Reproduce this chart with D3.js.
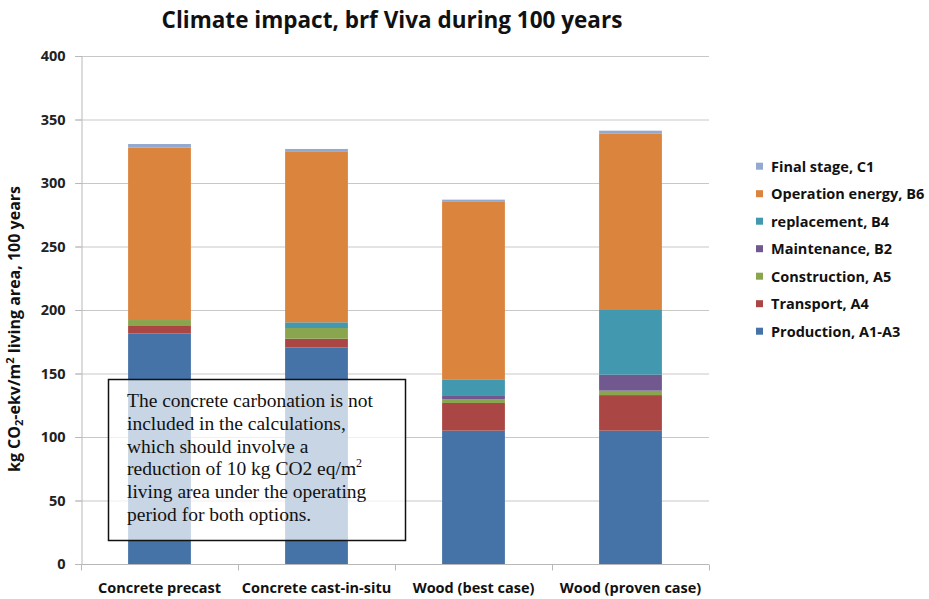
<!DOCTYPE html>
<html>
<head>
<meta charset="utf-8">
<script src="https://cdn.jsdelivr.net/npm/d3@7"></script>
<style>
  html, body { margin: 0; padding: 0; background: #fff; }
  svg { display: block; font-family: "Open Sans", "Lato", sans-serif; }
</style>
</head>
<body>
<svg id="chart" width="929" height="599"></svg>
<script>
// Categories along the x axis
const categories = ["Concrete precast", "Concrete cast-in-situ", "Wood (best case)", "Wood (proven case)"];

// Life-cycle stages, stacked bottom to top
const stages = ["Production, A1-A3", "Transport, A4", "Construction, A5", "Maintenance, B2", "replacement, B4", "Operation energy, B6", "Final stage, C1"];

// kg CO2-ekv/m2 living area per stage, one value per category
const production   = [181.6, 170.6, 105.0, 105.0];
const transport    = [5.8, 6.8, 21.8, 28.0];
const construction = [4.7, 8.4, 3.0, 3.5];
const maintenance  = [0.0, 0.0, 3.1, 12.6];
const replacement  = [0.0, 4.5, 12.1, 50.9];
const operation    = [135.9, 134.7, 140.1, 139.1];
const finalStage   = [2.7, 1.8, 1.8, 2.1];

const yTicks = [0, 50, 100, 150, 200, 250, 300, 350, 400];

const colors = ["#4572A7", "#AA4643", "#89A54E", "#71588F", "#4198AF", "#DB843D", "#93A9CF"];

const noteLines = [
  "The concrete carbonation is not",
  "included in the calculations,",
  "which should involve a",
  "reduction of 10 kg CO2 eq/m",
  "living area under the operating",
  "period for both options."
];

const series = [production, transport, construction, maintenance, replacement, operation, finalStage];
const rows = categories.map((c, i) => {
  const r = { category: c };
  stages.forEach((s, k) => { r[s] = series[k][i]; });
  return r;
});
const stacked = d3.stack().keys(stages)(rows);

const svg = d3.select("#chart");
const plot = { left: 81, right: 709, top: 56, bottom: 564 };

const x = d3.scaleBand().domain(categories).range([plot.left, plot.right]).padding(0);
const y = d3.scaleLinear().domain([0, 400]).range([plot.bottom, plot.top]);
const color = d3.scaleOrdinal().domain(stages).range(colors);

// Horizontal gridlines
svg.append("g")
  .selectAll("line")
  .data(yTicks)
  .join("line")
  .attr("x1", plot.left - 6)
  .attr("x2", plot.right)
  .attr("y1", d => y(d) + 0.5)
  .attr("y2", d => y(d) + 0.5)
  .attr("stroke", "#c8c8c8")
  .attr("stroke-width", 1);

// Stacked bars, 40% of each category band
const barW = x.bandwidth() * 0.4;
svg.append("g")
  .selectAll("g")
  .data(stacked)
  .join("g")
  .attr("fill", d => color(d.key))
  .selectAll("rect")
  .data(d => d)
  .join("rect")
  .attr("x", d => x(d.data.category) + (x.bandwidth() - barW) / 2)
  .attr("width", barW)
  .attr("y", d => y(d[1]))
  .attr("height", d => Math.max(0, y(d[0]) - y(d[1])));

// Y axis
const yAxis = svg.append("g")
  .attr("transform", `translate(${plot.left + 0.5},0)`)
  .call(d3.axisLeft(y).tickValues(yTicks).tickSize(6).tickPadding(10));
yAxis.select(".domain").attr("stroke", "#b8b8b8");
yAxis.selectAll(".tick line").attr("stroke", "#b8b8b8");
yAxis.selectAll(".tick text")
  .style("font-family", "'Open Sans', sans-serif")
  .style("font-size", "14.5px")
  .style("font-weight", "bold")
  .attr("fill", "#222");

// X axis with ticks between categories
const xAxis = svg.append("g")
  .attr("transform", `translate(0,${plot.bottom + 0.5})`);
xAxis.append("line")
  .attr("x1", plot.left).attr("x2", plot.right)
  .attr("stroke", "#b8b8b8");
xAxis.selectAll(".sep")
  .data(categories.concat([null]))
  .join("line")
  .attr("class", "sep")
  .attr("x1", d => (d ? x(d) : plot.right) + 0.5)
  .attr("x2", d => (d ? x(d) : plot.right) + 0.5)
  .attr("y1", 0).attr("y2", 6)
  .attr("stroke", "#b8b8b8");
xAxis.selectAll(".lbl")
  .data(categories)
  .join("text")
  .attr("class", "lbl")
  .attr("x", d => x(d) + x.bandwidth() / 2)
  .attr("y", 28)
  .attr("text-anchor", "middle")
  .style("font-size", "14.5px")
  .style("font-weight", "bold")
  .attr("fill", "#111")
  .text(d => d);

// Title
svg.append("text")
  .attr("x", 392)
  .attr("y", 28)
  .attr("text-anchor", "middle")
  .style("font-size", "22.5px")
  .style("font-weight", "bold")
  .attr("fill", "#111")
  .text("Climate impact, brf Viva during 100 years");

// Y axis title
const yt = svg.append("text")
  .attr("transform", "translate(20,329) rotate(-90)")
  .attr("text-anchor", "middle")
  .style("font-size", "16px")
  .style("font-weight", "bold")
  .attr("fill", "#111");
yt.append("tspan").text("kg CO");
yt.append("tspan").style("font-size", "11px").attr("dy", 3).text("2");
yt.append("tspan").attr("dy", -3).text("-ekv/m");
yt.append("tspan").style("font-size", "11px").attr("dy", -6).text("2");
yt.append("tspan").attr("dy", 6).text(" living area, 100 years");

// Legend, top entry is the top of the stack
const legend = svg.append("g")
  .selectAll("g")
  .data(stages.slice().reverse())
  .join("g")
  .attr("transform", (d, i) => `translate(756,${166.7 + i * 27.5})`);
legend.append("rect")
  .attr("x", 0).attr("y", -4)
  .attr("width", 7).attr("height", 7)
  .attr("fill", d => color(d));
legend.append("text")
  .attr("x", 15)
  .attr("y", 5)
  .style("font-size", "14.5px")
  .style("font-weight", "bold")
  .attr("fill", "#111")
  .text(d => d);

// Note box, semi-transparent over the bars
const note = svg.append("g");
note.append("rect")
  .attr("x", 108.5).attr("y", 379.5)
  .attr("width", 297).attr("height", 161)
  .attr("fill", "#fff")
  .attr("fill-opacity", 0.7)
  .attr("stroke", "#111")
  .attr("stroke-width", 1.5);
const noteText = note.append("text")
  .style("font-family", "'Liberation Serif', 'Times New Roman', serif")
  .style("font-size", "19.5px")
  .attr("fill", "#111");
noteLines.forEach((line, i) => {
  noteText.append("tspan")
    .attr("x", 127)
    .attr("y", 407 + i * 22.8)
    .text(line);
  if (i === 3) {
    // superscript 2 after m
    noteText.append("tspan")
      .attr("dy", -8)
      .style("font-size", "12px")
      .text("2");
  }
});
</script>
</body>
</html>
